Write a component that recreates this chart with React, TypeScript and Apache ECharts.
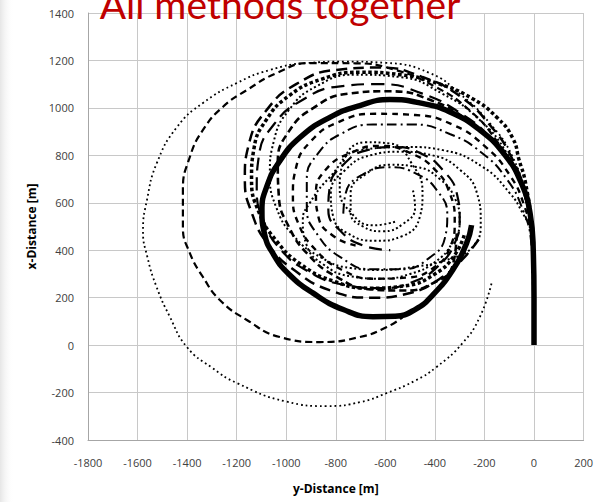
import React, { useEffect, useRef } from "react";
import * as echarts from "echarts";

// Axis ticks (y-Distance horizontally, x-Distance vertically)
const yDistTicks = { min: -1800, max: 200, step: 200 };
const xDistTicks = { min: -400, max: 1400, step: 200 };

// Trajectories as [y-Distance, x-Distance] pairs in metres
const thickSolid = [
  [0, 0], [0, 200], [-3, 400], [-15, 550], [-50, 680], [-117, 801], [-219, 907], [-340, 983],
  [-461, 1021], [-582, 1035], [-703, 1010], [-824, 960], [-945, 875], [-1030, 770], [-1078, 670],
  [-1098, 570], [-1088, 470], [-1050, 380], [-990, 300], [-893, 220], [-770, 150], [-650, 120],
  [-560, 122], [-480, 150], [-410, 210], [-328, 317], [-272, 430], [-252, 506],
];

const outerDotted = [
  [0, 0], [0, 250], [-8, 480], [-30, 612], [-86, 793], [-179, 936], [-300, 1060], [-421, 1147],
  [-600, 1190], [-760, 1195], [-917, 1189], [-1066, 1160], [-1199, 1105], [-1336, 1021],
  [-1441, 919], [-1522, 768], [-1562, 612], [-1578, 480], [-1560, 370], [-1525, 250],
  [-1470, 120], [-1401, -8], [-1300, -95], [-1199, -160], [-1000, -238], [-836, -257],
  [-700, -240], [-594, -202], [-480, -150], [-393, -92], [-288, 9], [-219, 118], [-171, 262],
];

const outerDashed = [
  [0, 0], [0, 250], [-8, 450], [-25, 580], [-70, 720], [-150, 860], [-260, 990], [-400, 1090],
  [-560, 1160], [-720, 1188], [-905, 1189], [-1038, 1147], [-1159, 1075], [-1256, 1004],
  [-1336, 907], [-1389, 793], [-1417, 654], [-1417, 498], [-1389, 388], [-1336, 287],
  [-1268, 190], [-1159, 106], [-1026, 34], [-865, 13], [-703, 34], [-594, 76], [-530, 118],
];

const longDashA = [
  [0, 0], [-2, 250], [-10, 470], [-35, 630], [-90, 790], [-180, 930], [-300, 1050], [-450, 1130],
  [-620, 1170], [-800, 1160], [-960, 1100], [-1080, 990], [-1150, 850], [-1167, 700],
  [-1140, 560], [-1070, 420], [-960, 310], [-820, 230], [-660, 200], [-500, 220], [-380, 280],
  [-290, 360], [-220, 450],
];

const longDashB = [
  [0, 0], [-2, 250], [-10, 470], [-35, 620], [-90, 760], [-180, 880], [-300, 980], [-450, 1060],
  [-620, 1100], [-790, 1090], [-940, 1030], [-1050, 930], [-1110, 800], [-1119, 660],
  [-1090, 520], [-1020, 400], [-910, 310], [-770, 255], [-620, 240], [-480, 270], [-380, 340],
  [-320, 430], [-300, 527], [-312, 641], [-368, 738], [-450, 805], [-560, 835], [-680, 820],
  [-770, 760], [-824, 670], [-830, 570], [-780, 480], [-690, 420], [-580, 400],
];

const dottedA = [
  [0, 0], [-2, 260], [-12, 500], [-45, 660], [-110, 810], [-220, 950], [-370, 1060], [-540, 1130],
  [-720, 1140], [-880, 1090], [-990, 990], [-1050, 860], [-1066, 720], [-1040, 580], [-970, 460],
  [-860, 370], [-740, 325], [-623, 317], [-490, 329], [-353, 359], [-248, 414], [-215, 520],
  [-230, 640], [-300, 740], [-410, 800], [-540, 815], [-660, 800], [-760, 740], [-820, 640],
  [-810, 540], [-750, 470], [-640, 440], [-530, 460], [-461, 540], [-450, 640], [-490, 760],
  [-580, 850], [-680, 855], [-770, 770], [-784, 660], [-740, 560], [-650, 505], [-560, 520],
];

const dottedB = [
  [0, 0], [-2, 250], [-6, 420], [-14, 486], [-46, 557], [-98, 641], [-207, 751], [-369, 822],
  [-502, 835], [-703, 822], [-824, 708], [-905, 599], [-933, 527], [-917, 420], [-850, 340],
  [-740, 290], [-620, 280], [-500, 300], [-400, 350], [-330, 430], [-300, 520], [-320, 620],
  [-380, 700], [-470, 750], [-580, 760], [-680, 720], [-740, 640], [-740, 560], [-690, 500],
  [-610, 480], [-530, 510], [-480, 580], [-490, 660],
];

const dashA = [
  [0, 0], [-2, 250], [-8, 460], [-30, 610], [-80, 740], [-160, 850], [-270, 950], [-410, 1030],
  [-580, 1070], [-750, 1060], [-890, 1000], [-990, 900], [-1034, 770], [-1030, 630], [-990, 500],
  [-910, 380], [-800, 290], [-660, 235], [-520, 230], [-400, 265], [-330, 330], [-312, 472],
];

const dashB = [
  [0, 0], [-2, 250], [-10, 450], [-40, 590], [-100, 720], [-200, 840], [-330, 930], [-480, 970],
  [-640, 975], [-790, 940], [-900, 860], [-960, 750], [-973, 630], [-950, 510], [-880, 400],
  [-780, 320], [-650, 280], [-510, 285], [-400, 330], [-340, 410], [-320, 520], [-340, 640],
  [-400, 740], [-500, 810], [-620, 840], [-740, 810], [-840, 740], [-880, 640], [-870, 540],
  [-810, 460], [-720, 420],
];

const dashDot = [
  [0, 0], [-2, 250], [-12, 440], [-45, 570], [-110, 700], [-210, 810], [-340, 890], [-490, 930],
  [-650, 930], [-780, 890], [-870, 810], [-917, 700], [-917, 580], [-870, 460], [-780, 370],
  [-660, 320], [-530, 320], [-420, 370], [-360, 450], [-350, 550], [-390, 650], [-470, 720],
  [-580, 750], [-690, 720], [-760, 640], [-770, 540],
];

const squareDot = [
  [0, 0], [-2, 300], [-10, 500], [-35, 688], [-60, 780], [-86, 873], [-150, 960], [-250, 1040],
  [-380, 1100], [-540, 1140], [-700, 1150], [-860, 1120], [-990, 1050], [-1080, 950],
  [-1130, 830], [-1140, 700], [-1110, 560], [-1040, 440], [-940, 340], [-810, 270], [-660, 240],
  [-520, 250], [-400, 300], [-320, 380], [-280, 470],
];

type Trace = { data: number[][]; width: number; dash: number[] | "solid" };

const traces: Trace[] = [
  { data: outerDotted, width: 1.8, dash: [1.8, 3] },
  { data: outerDashed, width: 2.2, dash: [7, 4] },
  { data: longDashA, width: 2.5, dash: [11, 6] },
  { data: longDashB, width: 2.2, dash: [13, 7] },
  { data: dottedA, width: 2, dash: [2, 2.5] },
  { data: dottedB, width: 2, dash: [2, 2.5] },
  { data: dashA, width: 2.6, dash: [7, 4] },
  { data: dashB, width: 2.4, dash: [6, 5] },
  { data: dashDot, width: 2, dash: [10, 4, 2, 4] },
  { data: squareDot, width: 3.5, dash: [3.5, 2.5] },
  { data: thickSolid, width: 5.5, dash: "solid" },
];

export default function App() {
  const ref = useRef<HTMLDivElement>(null);

  useEffect(() => {
    if (!ref.current) return;
    const chart = echarts.init(ref.current, null, { renderer: "svg" });

    const labelStyle = {
      color: "#404040",
      fontSize: 11,
      fontFamily: "'Open Sans', 'DejaVu Sans', sans-serif",
      formatter: (v: number) => String(v),
    };
    const nameStyle = {
      color: "#000",
      fontSize: 12,
      fontWeight: "bold" as const,
      fontFamily: "'Open Sans', 'DejaVu Sans', sans-serif",
    };

    chart.setOption({
      animation: false,
      backgroundColor: "#ffffff",
      grid: { left: 88, right: 12, top: 13, bottom: 62, containLabel: false },
      xAxis: {
        type: "value",
        min: yDistTicks.min,
        max: yDistTicks.max,
        interval: yDistTicks.step,
        name: "y-Distance [m]",
        nameLocation: "middle",
        nameGap: 42,
        nameTextStyle: nameStyle,
        axisLine: { show: true, onZero: false, lineStyle: { color: "#a6a6a6", width: 1 } },
        axisTick: { show: false },
        axisLabel: { ...labelStyle, margin: 17 },
        splitLine: { show: true, lineStyle: { color: "#c8c8c8", width: 1 } },
      },
      yAxis: {
        type: "value",
        min: xDistTicks.min,
        max: xDistTicks.max,
        interval: xDistTicks.step,
        name: "x-Distance [m]",
        nameLocation: "middle",
        nameGap: 50,
        nameRotate: 90,
        nameTextStyle: nameStyle,
        axisLine: { show: true, onZero: false, lineStyle: { color: "#a6a6a6", width: 1 } },
        axisTick: { show: false },
        axisLabel: { ...labelStyle, margin: 14 },
        splitLine: { show: true, lineStyle: { color: "#c8c8c8", width: 1 } },
      },
      graphic: [
        {
          type: "rect",
          left: 0,
          top: 0,
          shape: { width: 14, height: 502 },
          style: {
            fill: new echarts.graphic.LinearGradient(0, 0, 1, 0, [
              { offset: 0, color: "#e6e6e6" },
              { offset: 1, color: "rgba(255,255,255,0)" },
            ]),
          },
          silent: true,
          z: -1,
        },
        {
          type: "text",
          x: 280,
          y: 4,
          z: 100,
          style: {
            text: "All methods together",
            fill: "#c00000",
            font: "39px Lato, 'Open Sans', sans-serif",
            textAlign: "center",
            textVerticalAlign: "middle",
          },
        },
      ],
      series: traces.map((t, i) => ({
        type: "line",
        name: "trace" + i,
        data: t.data,
        showSymbol: false,
        symbol: "none",
        smooth: 0.5,
        silent: true,
        lineStyle: {
          color: "#000000",
          width: t.width,
          type: t.dash,
          cap: "butt",
        },
      })),
    });

    return () => chart.dispose();
  }, []);

  return (
    <div
      ref={ref}
      style={{ position: "fixed", left: 0, top: 0, width: 596, height: 502, background: "#fff" }}
    />
  );
}
